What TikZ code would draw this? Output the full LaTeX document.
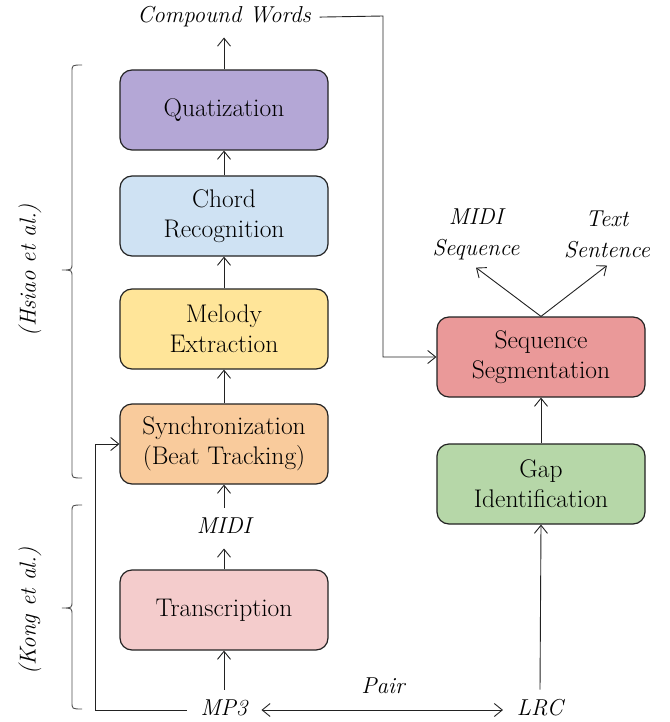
\documentclass[tikz,border=0pt]{standalone}
\usepackage{fontspec}
\setmainfont{Latin Modern Roman}
\usetikzlibrary{arrows.meta}
\definecolor{quatc}{RGB}{180,167,214}
\definecolor{chordc}{RGB}{207,226,243}
\definecolor{melc}{RGB}{255,229,153}
\definecolor{syncc}{RGB}{249,203,156}
\definecolor{transc}{RGB}{244,204,204}
\definecolor{segc}{RGB}{234,153,153}
\definecolor{gapc}{RGB}{182,215,168}
\definecolor{edgec}{RGB}{34,34,34}
\begin{document}
\begin{tikzpicture}[x=1pt,y=-1pt,
  stage/.style={draw=edgec, line width=1.2pt, rounded corners=12pt,
    minimum width=208pt, minimum height=80pt, inner sep=0pt,
    align=center, font=\fontsize{25.5}{30}\selectfont},
  lbl/.style={inner sep=0pt, text height=16pt, text depth=5pt,
    outer xsep=14pt, outer ysep=10pt, font=\fontsize{23}{30}\selectfont\itshape},
  lbltwo/.style={inner sep=0pt, outer ysep=8pt, align=center,
    font=\fontsize{23}{31}\selectfont\itshape},
  conn/.style={draw=edgec, line width=0.9pt, -{Straight Barb[length=8pt,width=13pt]}},
  bothconn/.style={draw=edgec, line width=0.9pt,
    {Straight Barb[length=8pt,width=13pt]}-{Straight Barb[length=8pt,width=13pt]}},
  bracket/.style={draw=edgec!80, line width=0.9pt},
  side/.style={rotate=90, inner sep=0pt, font=\fontsize{23}{30}\selectfont\itshape}]
\useasboundingbox (0,0) rectangle (669,722);

% pipeline stages
\node[stage, fill=quatc]  (quat)  at (224,110) {Quatization};
\node[stage, fill=chordc] (chord) at (224,216) {Chord\\Recognition};
\node[stage, fill=melc]   (mel)   at (224,329) {Melody\\Extraction};
\node[stage, fill=syncc]  (sync)  at (224,444) {Synchronization\\(Beat Tracking)};
\node[stage, fill=transc] (trans) at (224,610) {Transcription};
\node[stage, fill=segc]   (seg)   at (541,357) {Sequence\\Segmentation};
\node[stage, fill=gapc]   (gap)   at (541,484) {Gap\\Identification};

% data labels
\node[lbl] (cw)   at (224,17)  {Compound Words};
\node[lbl] (midi) at (224,528) {MIDI};
\node[lbl] (mp3)  at (224,710) {MP3};
\node[lbl] (lrc)  at (540,710) {LRC};
\node[lbl] (pair) at (383,688) {Pair};
\node[lbltwo] (midiseq)  at (476,234) {MIDI\\Sequence};
\node[lbltwo] (textsent) at (607,234) {Text\\Sentence};

% left column flow
\draw[conn] (mp3) -- (trans);
\draw[conn] (trans) -- (midi);
\draw[conn] (midi) -- (sync);
\draw[conn] (sync) -- (mel);
\draw[conn] (mel) -- (chord);
\draw[conn] (chord) -- (quat);
\draw[conn] (quat) -- (cw);

% audio also feeds synchronization
\coordinate (mp3turn) at (95,710);
\draw[conn] (mp3.west) -- (mp3turn) |- (sync.west);

% audio / lyrics pairing
\draw[bothconn] (mp3.east) -- (lrc.west);

% right column flow
\draw[conn] (lrc.north) -- (gap.south);
\draw[conn] (gap) -- (seg);
\coordinate (cwturn) at (383,16);
\draw[conn, shorten <=-5pt] (cw.east) -- (cwturn) |- (seg.west);
\draw[conn] (seg.north) -- (midiseq.south);
\draw[conn] (seg.north) -- (textsent.south);

% bracket for the first group
\draw[bracket] (82,65) .. controls (72,65) .. (72,72) -- (72,263)
  .. controls (72,270) .. (62,270) .. controls (72,270) .. (72,277)
  -- (72,471) .. controls (72,478) .. (82,478);
\node[side] (hsiao) at (30,270) {(Hsiao et al.)};

% bracket for the second group
\draw[bracket] (82,505) .. controls (72,505) .. (72,512) -- (72,601)
  .. controls (72,608) .. (62,608) .. controls (72,608) .. (72,615)
  -- (72,702) .. controls (72,709) .. (82,709);
\node[side] (kong) at (30,611) {(Kong et al.)};
\end{tikzpicture}
\end{document}
